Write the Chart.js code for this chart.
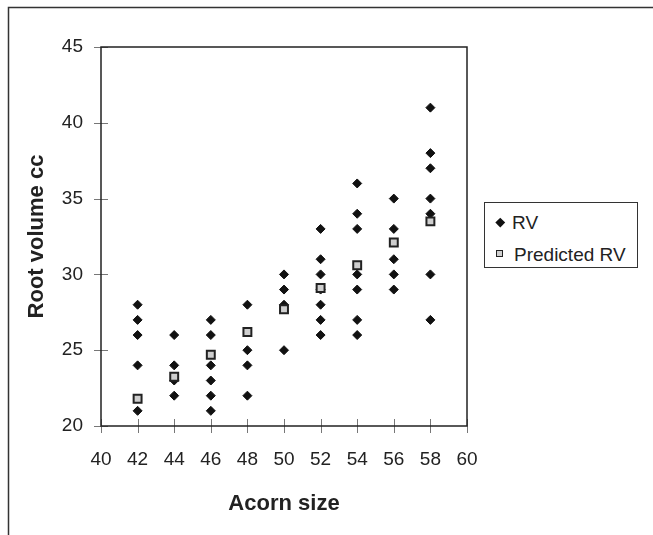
<!DOCTYPE html>
<html>
<head>
<meta charset="utf-8">
<script src="https://cdn.jsdelivr.net/npm/chart.js@4.4.1/dist/chart.umd.min.js"></script>
<style>
    body { margin: 0; background: #fff; }
    #wrap { position: relative; width: 653px; height: 535px; font-family: "Liberation Sans", Arial, sans-serif; }
    #legend {
        position: absolute; left: 484px; top: 202px; width: 152px; height: 64px;
        border: 1.5px solid #333; background: #fff;
    }
    .item { position: absolute; left: 0; height: 19px; line-height: 19px; font-size: 19px; color: #222; white-space: nowrap; }
    .item span { position: absolute; top: 0; }
    .diamond { position: absolute; width: 6.5px; height: 6.5px; background: #111; transform: rotate(45deg); }
    .square { position: absolute; width: 5px; height: 5px; background: #cfcfcf; border: 1.5px solid #222; }
</style>
</head>
<body>
<div id="wrap">
    <canvas id="rvChart" width="653" height="535"></canvas>
    <div id="legend">
        <div class="item" style="top: 10px;"><i class="diamond" style="left: 12px; top: 6px;"></i><span style="left: 27px;">RV</span></div>
        <div class="item" style="top: 42px;"><i class="square" style="left: 11px; top: 5px;"></i><span style="left: 29px;">Predicted RV</span></div>
    </div>
</div>
<script>
// acorn size classes on the x axis
const acornSizes = [42, 44, 46, 48, 50, 52, 54, 56, 58];
// measured root volume (cc) for each acorn size
const rvValues = [
    [28, 27, 26, 24, 21],
    [26, 24, 23, 22],
    [27, 26, 24, 23, 22, 21],
    [28, 25, 24, 22],
    [30, 29, 28, 25],
    [33, 31, 30, 29, 28, 27, 26],
    [36, 34, 33, 30, 29, 27, 26],
    [35, 33, 31, 30, 29],
    [41, 38, 37, 35, 34, 30, 27]
];
// predicted root volume for each acorn size
const predictedRV = [21.8, 23.25, 24.7, 26.2, 27.7, 29.1, 30.6, 32.1, 33.5];
const xTicks = [40, 42, 44, 46, 48, 50, 52, 54, 56, 58, 60];
const yTicks = [20, 25, 30, 35, 40, 45];

const FONT = '"Liberation Sans", Arial, sans-serif';

// frame round the whole picture, box round the plot and crossing tick marks
const framePlugin = {
    id: 'framePlugin',
    beforeDraw(chart) {
        const ctx = chart.ctx;
        ctx.save();
        ctx.strokeStyle = '#333';
        ctx.lineWidth = 1.5;
        ctx.beginPath();
        ctx.moveTo(8.5, 535);
        ctx.lineTo(8.5, 7.5);
        ctx.lineTo(653, 7.5);
        ctx.stroke();
        ctx.restore();
    },
    afterDraw(chart) {
        const ctx = chart.ctx;
        const a = chart.chartArea;
        const xs = chart.scales.x;
        const ys = chart.scales.y;
        ctx.save();
        ctx.strokeStyle = '#777';
        ctx.lineWidth = 1;
        ctx.beginPath();
        xTicks.forEach(v => {
            const px = Math.round(xs.getPixelForValue(v)) + 0.5;
            ctx.moveTo(px, a.bottom - 7);
            ctx.lineTo(px, a.bottom + 7);
        });
        yTicks.forEach(v => {
            const py = Math.round(ys.getPixelForValue(v)) + 0.5;
            ctx.moveTo(a.left - 7, py);
            ctx.lineTo(a.left + 7, py);
        });
        ctx.stroke();
        ctx.strokeStyle = '#222';
        ctx.lineWidth = 1.5;
        ctx.strokeRect(a.left, a.top, a.right - a.left, a.bottom - a.top);
        ctx.restore();
    }
};

function buildRVPoints() {
    const pts = [];
    acornSizes.forEach((size, i) => {
        rvValues[i].forEach(v => pts.push({ x: size, y: v }));
    });
    return pts;
}

function renderChart() {
    const predictedPoints = acornSizes.map((size, i) => ({ x: size, y: predictedRV[i] }));

    new Chart(document.getElementById('rvChart'), {
        type: 'scatter',
        data: {
            datasets: [
                {
                    label: 'Predicted RV',
                    data: predictedPoints,
                    pointStyle: 'rect',
                    pointRadius: 5.6,
                    borderWidth: 2,
                    backgroundColor: '#cfcfcf',
                    borderColor: '#222',
                    order: 0
                },
                {
                    label: 'RV',
                    data: buildRVPoints(),
                    pointStyle: 'rectRot',
                    pointRadius: 4.5,
                    borderWidth: 1,
                    backgroundColor: '#111',
                    borderColor: '#111',
                    order: 1
                }
            ]
        },
        options: {
            responsive: false,
            animation: false,
            events: [],
            layout: { padding: { top: 47, right: 186, left: 0, bottom: 0 } },
            plugins: {
                legend: { display: false },
                tooltip: { enabled: false }
            },
            scales: {
                x: {
                    type: 'linear',
                    min: 40,
                    max: 60,
                    afterFit: s => { s.height = 109; },
                    afterBuildTicks: s => { s.ticks = xTicks.map(v => ({ value: v })); },
                    grid: { display: false, drawTicks: false },
                    border: { display: false },
                    ticks: { color: '#222', padding: 22, font: { family: FONT, size: 19 } },
                    title: {
                        display: true,
                        text: 'Acorn size',
                        color: '#222',
                        padding: { top: 0, bottom: 18 },
                        font: { family: FONT, size: 22, weight: 'bold' }
                    }
                },
                y: {
                    type: 'linear',
                    min: 20,
                    max: 45,
                    afterFit: s => { s.width = 101; },
                    afterBuildTicks: s => { s.ticks = yTicks.map(v => ({ value: v })); },
                    grid: { display: false, drawTicks: false },
                    border: { display: false },
                    ticks: { color: '#222', padding: 18, font: { family: FONT, size: 19 } },
                    title: {
                        display: true,
                        text: 'Root volume cc',
                        color: '#222',
                        padding: { top: 24, bottom: 0 },
                        font: { family: FONT, size: 22, weight: 'bold' }
                    }
                }
            }
        },
        plugins: [framePlugin]
    });
}

renderChart();
</script>
</body>
</html>
